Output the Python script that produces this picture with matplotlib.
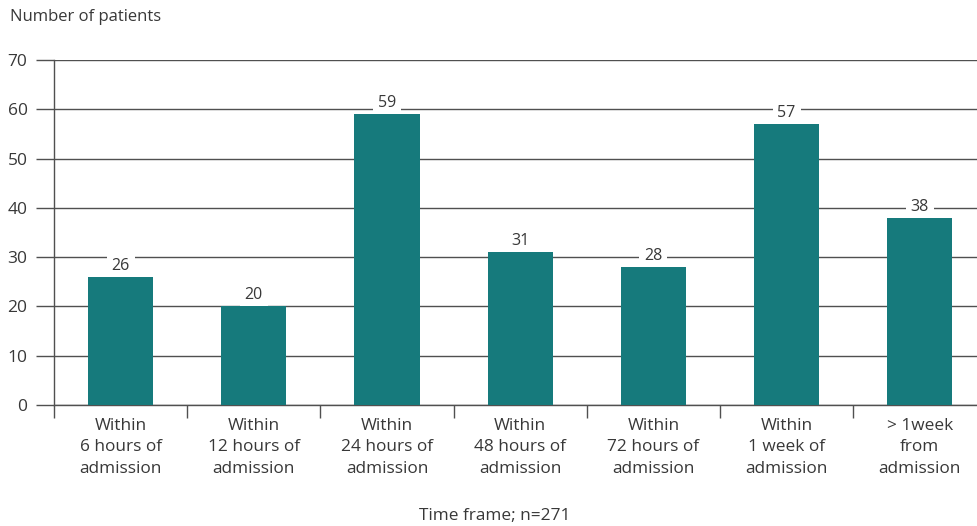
import matplotlib.pyplot as plt
import numpy as np

plt.rcParams['font.family'] = ['Open Sans', 'DejaVu Sans']

# patients by time to event
categories = ['Within\n6 hours of\nadmission', 'Within\n12 hours of\nadmission',
              'Within\n24 hours of\nadmission', 'Within\n48 hours of\nadmission',
              'Within\n72 hours of\nadmission', 'Within\n1 week of\nadmission',
              '> 1week\nfrom\nadmission']
patients = [26, 20, 59, 31, 28, 57, 38]
yticks = [0, 10, 20, 30, 40, 50, 60, 70]

bar_col = '#167a7c'
line_col = '#505050'
text_col = '#383838'

fig = plt.figure(figsize=(9.77, 5.26), dpi=100)
ax = fig.add_axes([54/977, (526-405)/526, 923/977, 345/526])

x = np.arange(len(categories))
ax.bar(x, patients, width=0.49, color=bar_col, zorder=3)

ax.set_yticks(yticks)
ax.yaxis.grid(True, color=line_col, linewidth=1.0, zorder=1)
ax.tick_params(axis='y', length=13, width=1.0, color=line_col, pad=6,
               labelsize=12.5, labelcolor=text_col)

# category labels sit between boundary ticks
ax.set_xticks(np.arange(len(categories) + 1) - 0.5)
ax.set_xticklabels([])
ax.set_xticks(x, minor=True)
ax.set_xticklabels(categories, minor=True, fontsize=12.4, color=text_col,
                   linespacing=1.48)
ax.tick_params(axis='x', which='major', length=9, width=1.0, color=line_col)
ax.tick_params(axis='x', which='minor', length=0, pad=9)

# limits after the ticks, so the last boundary tick falls off the edge
ax.set_ylim(0, 70)
ax.set_xlim(-0.5, -0.5 + 923/133.2)

for s in ['top', 'right']:
    ax.spines[s].set_visible(False)
ax.spines['left'].set_color(line_col)
ax.spines['bottom'].set_color(line_col)
ax.spines['left'].set_linewidth(1.0)
ax.spines['bottom'].set_linewidth(1.0)

# value labels: white box hides the gridline, bars drawn on top of the box
for xi, v in zip(x, patients):
    ax.annotate(str(v), (xi, v), xytext=(0, 8), textcoords='offset points',
                ha='center', va='center', fontsize=11.5, color=text_col,
                bbox=dict(boxstyle='square,pad=0.3', fc='white', ec='none'),
                zorder=2)

fig.text(10/977, 1 - 17/526, 'Number of patients', fontsize=12,
         color=text_col, ha='left', va='center')
fig.text(495/977, 1 - 516/526, 'Time frame; n=271', fontsize=12.4,
         color=text_col, ha='center', va='center')

fig.savefig('out.png', dpi=100)
